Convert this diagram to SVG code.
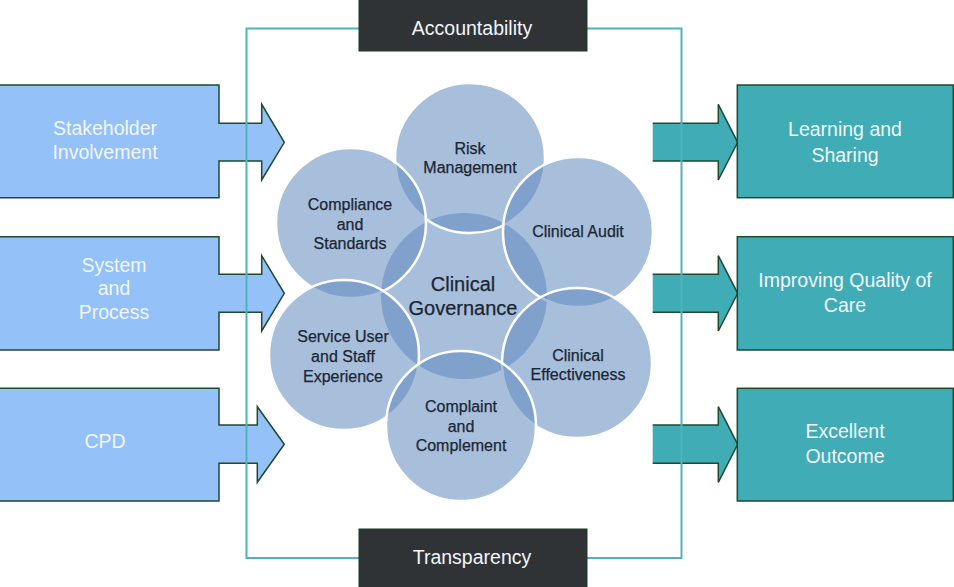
<svg xmlns="http://www.w3.org/2000/svg" width="954" height="587" viewBox="0 0 954 587">
<style>
.inbox{fill:#94c1f7;stroke:#1e4a30;stroke-width:1.5}
.outbox{fill:#40acb5;stroke:#1e4a30;stroke-width:1.5}
.dark{fill:#303336;stroke:#1b3d26;stroke-width:1}
.frame{fill:none;stroke:#4fb3bc;stroke-width:2}
.c{fill:#5a87bd;fill-opacity:0.53}
.co{fill:#5a87bd;fill-opacity:0.53;stroke:#ffffff;stroke-width:2.5}
.wt{font-family:"Liberation Sans",Arial,sans-serif;font-size:19.5px;fill:#f2f6fb;text-anchor:middle}
.ct{font-family:"Liberation Sans",Arial,sans-serif;font-size:16px;fill:#1b2634;text-anchor:middle;stroke:#1b2634;stroke-width:0.25}
.gt{font-family:"Liberation Sans",Arial,sans-serif;font-size:20px;fill:#1b2634;text-anchor:middle;stroke:#1b2634;stroke-width:0.25}
</style>
<rect width="954" height="587" fill="#ffffff"/>

<g id="circles">
  <circle id="n-governance" class="c" cx="464" cy="296" r="83"/>
  <circle id="n-risk" class="co" cx="470" cy="158" r="75"/>
  <circle id="n-compliance" class="co" cx="351" cy="223" r="75"/>
  <circle id="n-audit" class="co" cx="578" cy="232" r="75"/>
  <circle id="n-service" class="co" cx="344" cy="355" r="75"/>
  <circle id="n-effectiveness" class="co" cx="577" cy="363" r="75"/>
  <circle id="n-complaint" class="co" cx="461" cy="426" r="75"/>
</g>
<g id="circle-labels">
  <text class="ct" x="470" y="154">Risk</text>
  <text class="ct" x="470" y="173">Management</text>
  <text class="ct" x="350" y="210">Compliance</text>
  <text class="ct" x="350" y="230">and</text>
  <text class="ct" x="350" y="249">Standards</text>
  <text class="ct" x="578" y="237">Clinical Audit</text>
  <text class="gt" x="463" y="291">Clinical</text>
  <text class="gt" x="463" y="315">Governance</text>
  <text class="ct" x="343" y="342">Service User</text>
  <text class="ct" x="343" y="362">and Staff</text>
  <text class="ct" x="343" y="382">Experience</text>
  <text class="ct" x="578" y="361">Clinical</text>
  <text class="ct" x="578" y="380">Effectiveness</text>
  <text class="ct" x="461" y="412">Complaint</text>
  <text class="ct" x="461" y="432">and</text>
  <text class="ct" x="461" y="451">Complement</text>
</g>

<g id="connectors">
  <path class="inbox" d="M0,85 H219 V123.3 H261.7 V104.3 L284.3,142.3 L261.7,180 V161 H219 V197.7 H0"/>
  <path class="inbox" d="M0,236.7 H219 V274.3 H261.7 V255.7 L284.3,293.3 L261.7,331 V312.3 H219 V350 H0"/>
  <path class="inbox" d="M0,388.3 H219 V425 H257.3 V406.7 L284.3,444.3 L257.3,482.3 V463.3 H219 V501 H0"/>
  <path class="outbox" d="M652.7,123.3 H718.3 V104.3 L737.7,142.3 L718.3,180 V161 H652.7" />
  <path class="outbox" d="M652.7,274.3 H718.3 V255.7 L737.7,293.3 L718.3,331 V312.3 H652.7" />
  <path class="outbox" d="M652.7,425 H718.3 V406.7 L737.7,444.3 L718.3,482.3 V463.3 H652.7" />
  <rect class="frame" x="246.5" y="28.5" width="435" height="529.5"/>
</g>

<g id="n-stakeholder">
  <text class="wt" x="105" y="135">Stakeholder</text>
  <text class="wt" x="105" y="159">Involvement</text>
</g>
<g id="n-system">
  <text class="wt" x="114" y="272">System</text>
  <text class="wt" x="114" y="295">and</text>
  <text class="wt" x="114" y="319">Process</text>
</g>
<g id="n-cpd">
  <text class="wt" x="105" y="448">CPD</text>
</g>

<g id="n-learning">
  <rect class="outbox" x="737.3" y="85" width="216" height="112.7"/>
  <text class="wt" x="845" y="136">Learning and</text>
  <text class="wt" x="845" y="162">Sharing</text>
</g>
<g id="n-improving">
  <rect class="outbox" x="737.3" y="236.7" width="216" height="113.3"/>
  <text class="wt" x="845" y="287">Improving Quality of</text>
  <text class="wt" x="845" y="312">Care</text>
</g>
<g id="n-excellent">
  <rect class="outbox" x="737.3" y="388.3" width="216" height="112.7"/>
  <text class="wt" x="845" y="438">Excellent</text>
  <text class="wt" x="845" y="463">Outcome</text>
</g>

<g id="n-accountability">
  <rect class="dark" x="359" y="-1" width="228" height="52"/>
  <text class="wt" x="472" y="35">Accountability</text>
</g>
<g id="n-transparency">
  <rect class="dark" x="359" y="529" width="228" height="59"/>
  <text class="wt" x="472" y="564">Transparency</text>
</g>
</svg>
